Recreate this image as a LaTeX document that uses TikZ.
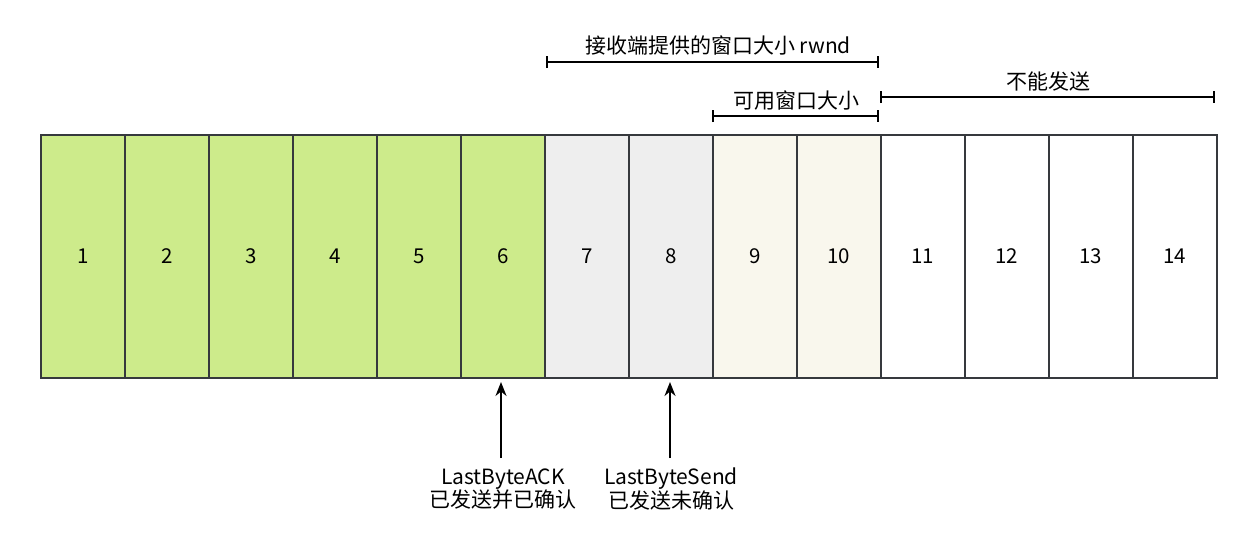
\documentclass[tikz,border=0pt]{standalone}
\usepackage{fontspec}
\setmainfont{Noto Sans CJK SC}
\usetikzlibrary{arrows.meta}
\definecolor{ackgreen}{HTML}{CDEB8B}
\definecolor{sentgrey}{HTML}{EEEEEE}
\definecolor{availbeige}{HTML}{F9F7ED}
\definecolor{edge}{HTML}{36393D}
\tikzset{
  cell/.style={draw=edge, line width=1.8pt, minimum width=84pt, minimum height=243pt, inner sep=0pt, anchor=north west, font=\fontsize{20.5}{24}\selectfont},
  lbl/.style={font=\fontsize{21}{22}\selectfont, inner sep=1pt},
  span/.style={line width=2pt, {Bar[width=12pt]}-{Bar[width=12pt]}},
  ptr/.style={line width=2pt, -{Stealth[length=14pt,width=11pt]}}
}
\begin{document}
\begin{tikzpicture}[x=1pt,y=-1pt]
\path[use as bounding box] (0,0) rectangle (1258,541);
\foreach \i in {1,...,14}{
  \pgfmathsetmacro{\xx}{40+(\i-1)*84}
  \ifnum\i<7 \def\fc{ackgreen}\else\ifnum\i<9 \def\fc{sentgrey}\else\ifnum\i<11 \def\fc{availbeige}\else\def\fc{white}\fi\fi\fi
  \node[cell, fill=\fc] (c\i) at (\xx,134) {\i};
}
% top spans
\coordinate (r1) at (546,62);
\coordinate (r2) at (879,62);
\draw[span] (r1) -- (r2);
\node[lbl] (rt) at (718,45) {接收端提供的窗口大小 rwnd};
\coordinate (a1) at (712,116);
\coordinate (a2) at (879,116);
\draw[span] (a1) -- (a2);
\node[lbl] (at) at (796,101) {可用窗口大小};
\coordinate (n1) at (880,97);
\coordinate (n2) at (1215,97);
\draw[span] (n1) -- (n2);
\node[lbl] (nt) at (1048,82) {不能发送};
% pointers
\node[lbl, align=center] (p1) at (503,489) {LastByteACK\\已发送并已确认};
\node[lbl, align=center] (p2) at (671,489) {LastByteSend\\已发送未确认};
\coordinate (t1) at (501,382);
\coordinate (t2) at (670,382);
\draw[ptr] (501,458) -- (t1);
\draw[ptr] (670,458) -- (t2);
\end{tikzpicture}
\end{document}
